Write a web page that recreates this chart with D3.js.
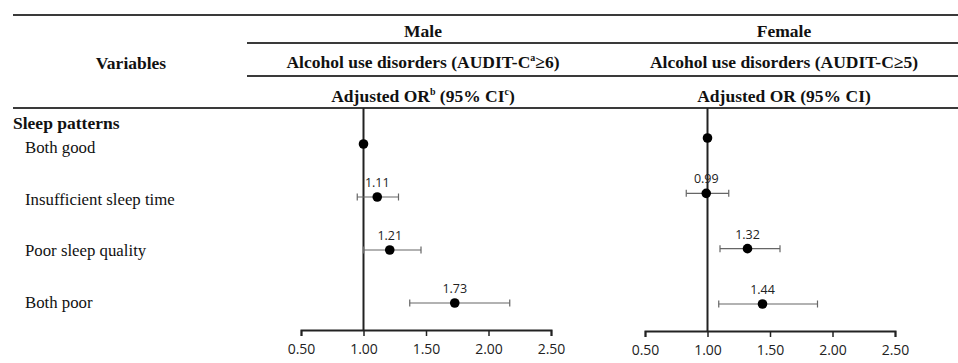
<!DOCTYPE html>
<html>
<head>
<meta charset="utf-8">
<script src="https://cdn.jsdelivr.net/npm/d3@7"></script>
<style>
  body { margin: 0; background: #fff; }
  svg { display: block; }
  .serif { font-family: "Liberation Serif", "DejaVu Serif", serif; fill: #111; }
  .sans { font-family: "Open Sans", "Noto Sans", sans-serif; fill: #222; }
</style>
</head>
<body>
<svg id="chart"></svg>
<script>
// rows of the table
const categories = ["Both good", "Insufficient sleep time", "Poor sleep quality", "Both poor"];

// male: adjusted OR with 95% CI (reference row has no CI)
const maleOR   = [1.00, 1.11, 1.21, 1.73];
const maleLow  = [null, 0.95, 1.00, 1.37];
const maleHigh = [null, 1.28, 1.46, 2.17];

// female
const femaleOR   = [1.00, 0.99, 1.32, 1.44];
const femaleLow  = [null, 0.83, 1.10, 1.09];
const femaleHigh = [null, 1.17, 1.58, 1.88];

const axisTicks = [0.5, 1.0, 1.5, 2.0, 2.5];

const W = 958, H = 363;
const svg = d3.select("#chart").attr("width", W).attr("height", H);

// ---- table header ----
const lineColor = "#3a3a3a";
function hline(x1, x2, y) {
  svg.append("line").attr("x1", x1).attr("x2", x2).attr("y1", y).attr("y2", y)
    .attr("stroke", lineColor).attr("stroke-width", 2);
}
hline(13, W, 15);
hline(247, W, 43);
hline(247, W, 76);
hline(13, W, 108);

const headSize = 17.5;
function headText(x, y, str) {
  return svg.append("text").attr("class", "serif").attr("x", x).attr("y", y)
    .attr("text-anchor", "middle").attr("font-size", headSize).attr("font-weight", "bold").text(str);
}
headText(131, 69, "Variables");
headText(423, 37, "Male");
headText(784, 37, "Female");

const t1 = headText(423, 68, "Alcohol use disorders (AUDIT-C");
t1.append("tspan").attr("font-size", 10).attr("dy", -7).text("a");
t1.append("tspan").attr("dy", 7).text("\u22656)");
headText(784, 68, "Alcohol use disorders (AUDIT-C\u22655)");

const t2 = headText(423, 102, "Adjusted OR");
t2.append("tspan").attr("font-size", 10).attr("dy", -7).text("b");
t2.append("tspan").attr("dy", 7).text(" (95% CI");
t2.append("tspan").attr("font-size", 10).attr("dy", -7).text("c");
t2.append("tspan").attr("dy", 7).text(")");
headText(784, 102, "Adjusted OR (95% CI)");

// ---- row labels ----
svg.append("text").attr("class", "serif").attr("x", 13).attr("y", 129)
  .attr("font-size", headSize).attr("font-weight", "bold").text("Sleep patterns");

const labelY = d3.scalePoint().domain(categories).range([148, 303]);
svg.selectAll(".rowlab").data(categories).enter().append("text")
  .attr("class", "serif rowlab")
  .attr("x", 25).attr("y", d => labelY(d) + 5)
  .attr("font-size", 16.8).text(d => d);

// ---- forest panels ----
function panel(xRange, yRange, axisY, or, low, high) {
  const x = d3.scaleLinear().domain([0.5, 2.5]).range(xRange);
  const y = d3.scalePoint().domain(categories).range(yRange);
  const g = svg.append("g");

  // reference line at OR = 1
  g.append("line").attr("x1", x(1)).attr("x2", x(1)).attr("y1", 108).attr("y2", axisY)
    .attr("stroke", "#222").attr("stroke-width", 2);

  const rows = categories.map((c, i) => ({ c, or: or[i], lo: low[i], hi: high[i] }));
  const ci = rows.filter(d => d.lo != null);

  g.selectAll(".ci").data(ci).enter().append("line")
    .attr("x1", d => x(d.lo)).attr("x2", d => x(d.hi))
    .attr("y1", d => y(d.c)).attr("y2", d => y(d.c))
    .attr("stroke", "#666").attr("stroke-width", 1.2);
  ["lo", "hi"].forEach(k => {
    g.selectAll(".cap-" + k).data(ci).enter().append("line")
      .attr("x1", d => x(d[k])).attr("x2", d => x(d[k]))
      .attr("y1", d => y(d.c) - 3.5).attr("y2", d => y(d.c) + 3.5)
      .attr("stroke", "#666").attr("stroke-width", 1.2);
  });

  g.selectAll(".dot").data(rows).enter().append("circle")
    .attr("cx", d => x(d.or)).attr("cy", d => y(d.c)).attr("r", 4.8)
    .attr("fill", "#000");

  g.selectAll(".val").data(ci).enter().append("text")
    .attr("class", "sans").attr("x", d => x(d.or)).attr("y", d => y(d.c) - 10)
    .attr("text-anchor", "middle").attr("font-size", 12.5)
    .text(d => d3.format(".2f")(d.or));

  const axis = d3.axisBottom(x).tickValues(axisTicks).tickFormat(d3.format(".2f"))
    .tickSize(6).tickSizeOuter(6);
  const ag = g.append("g").attr("transform", `translate(0,${axisY})`).call(axis);
  ag.select(".domain").attr("stroke", "#222").attr("stroke-width", 2);
  ag.selectAll(".tick line").attr("stroke", "#222").attr("stroke-width", 1.5);
  ag.selectAll(".tick text").attr("class", "sans").attr("font-size", 14)
    .attr("dy", "1.05em").attr("fill", "#222");
}

panel([301, 551], [144, 303], 330, maleOR, maleLow, maleHigh);
panel([645, 895], [138, 304], 331, femaleOR, femaleLow, femaleHigh);
</script>
</body>
</html>
